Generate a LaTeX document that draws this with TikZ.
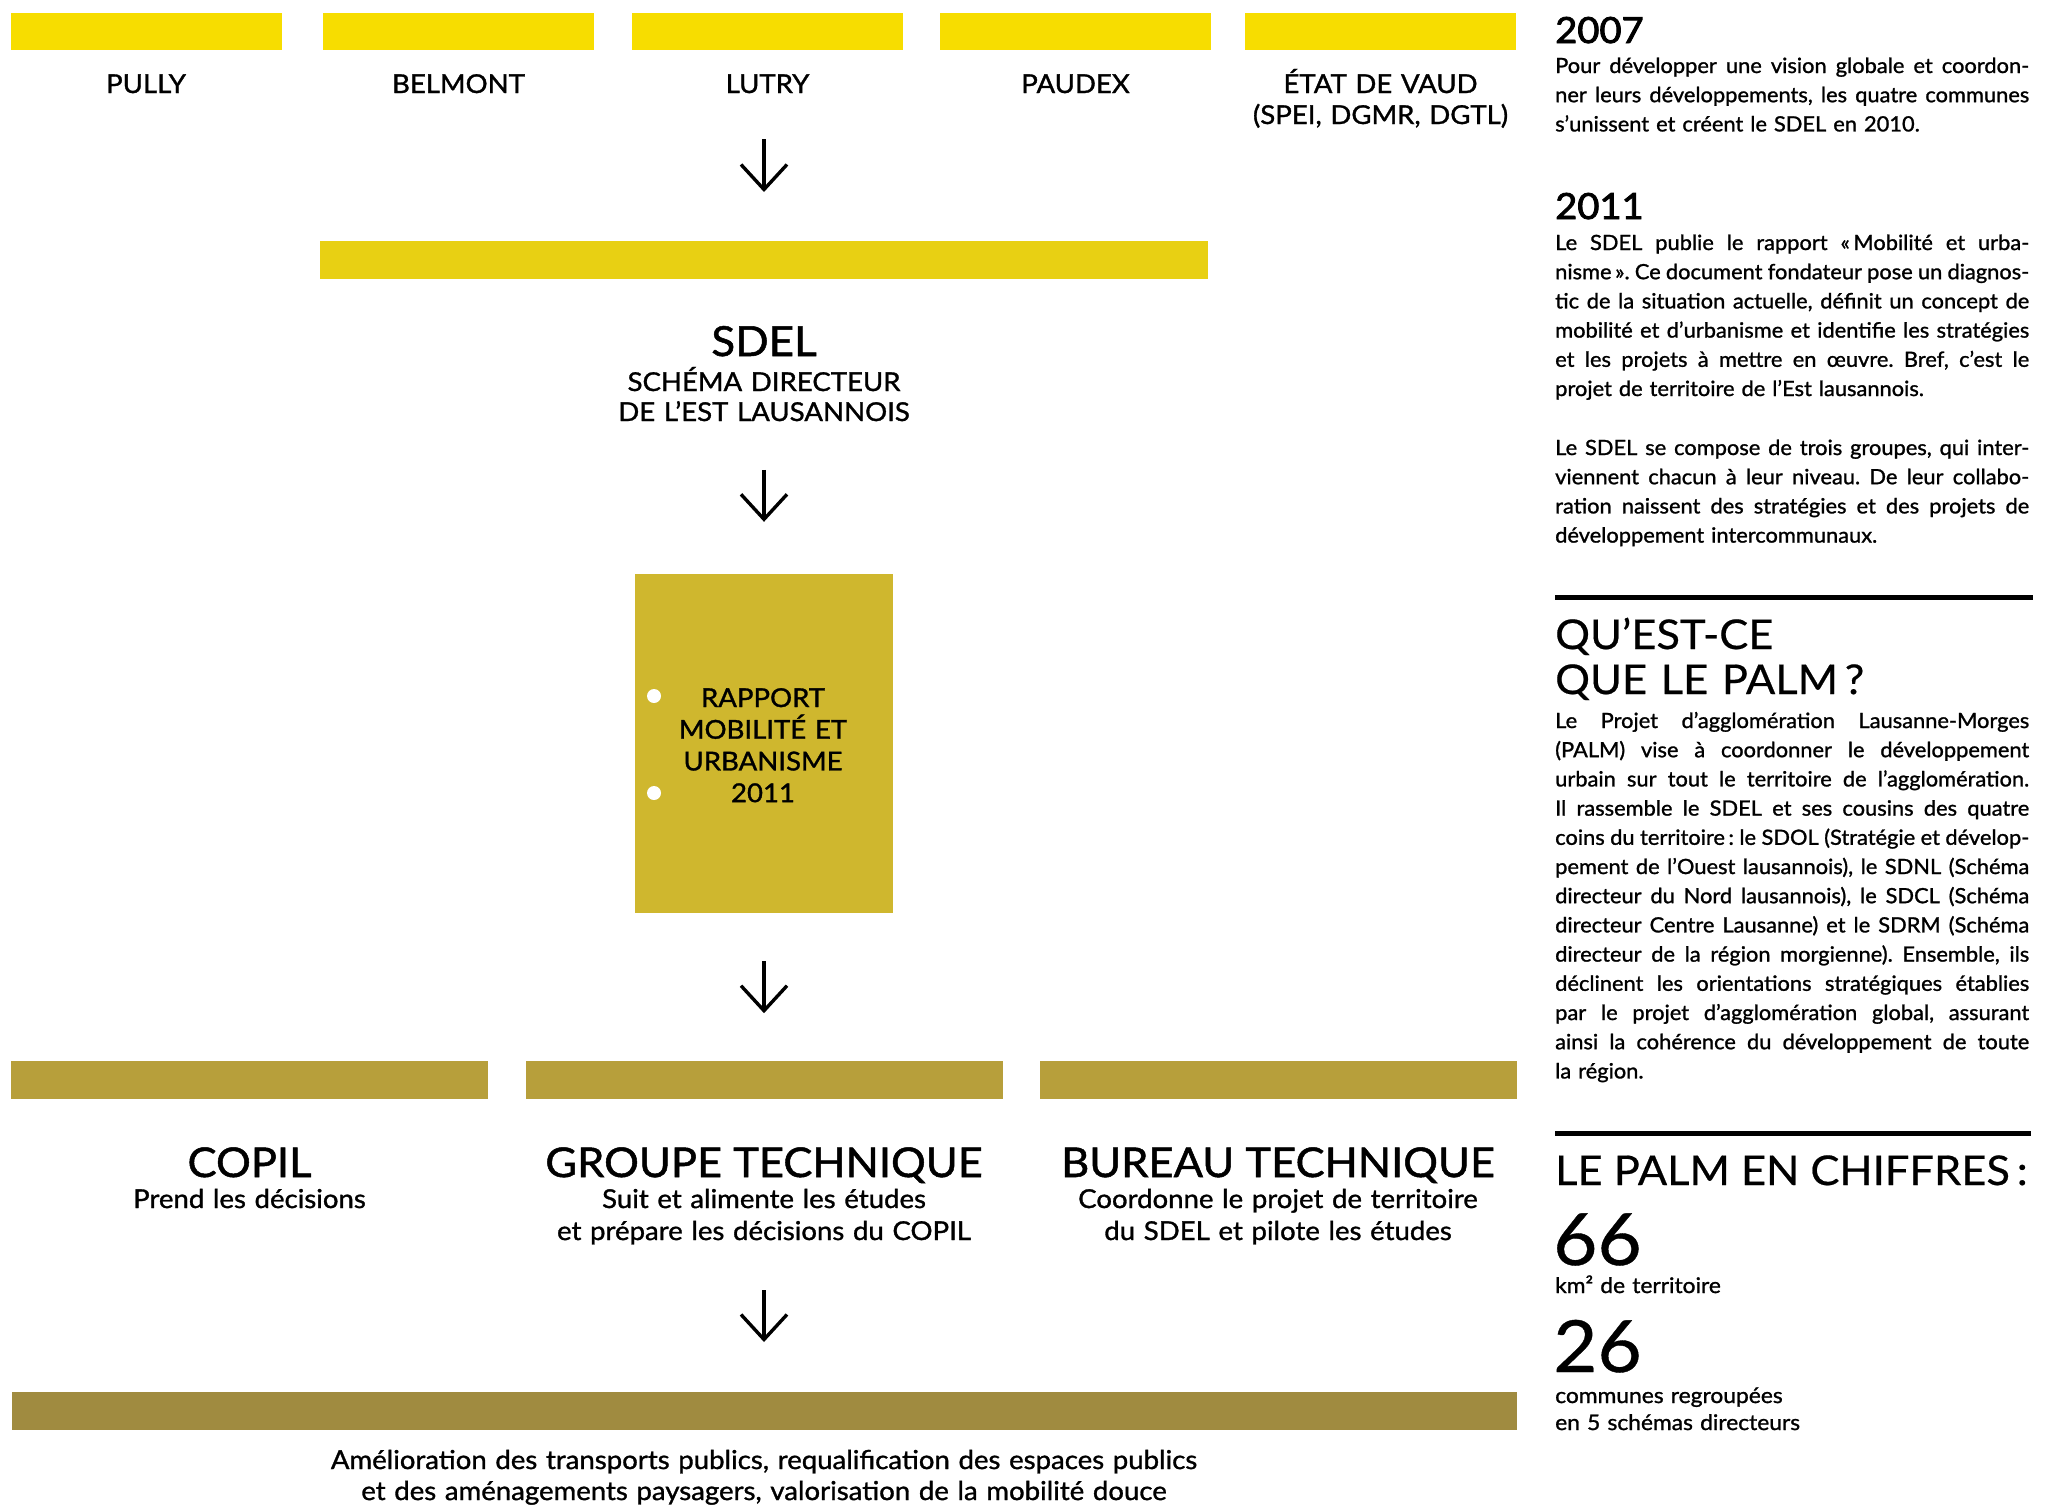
\documentclass[tikz,border=0pt]{standalone}
\usepackage{fontspec}
\setmainfont{Lato}[FakeStretch=1.06,FakeBold=1.2]
\newfontfamily\bodyfont{Lato}[FakeStretch=1.04,FakeBold=1.2]
\newfontfamily\yearfont{Lato}[FakeStretch=1.06,FakeBold=2.4]
\newfontfamily\palmlight{Lato}[FakeStretch=1.06,FakeBold=0.5]
\usetikzlibrary{arrows.meta}
\frenchspacing

\definecolor{communeyellow}{HTML}{F7DD00}
\definecolor{sdelyellow}{HTML}{E8D013}
\definecolor{rapportgold}{HTML}{CFB72E}
\definecolor{groupgold}{HTML}{B79F3B}
\definecolor{resultgold}{HTML}{A08B40}

% une ligne justifiee sur toute la largeur de la colonne
\newcommand{\fullline}[1]{\leavevmode\hbox to\linewidth{\spaceskip=0pt\xspaceskip=0pt #1}\par}

\tikzset{
  colbar/.style={fill=#1, inner sep=0pt, outer sep=0pt, minimum height=38pt},
  flowarrow/.style={line width=3.4pt, -{Straight Barb[length=25pt,width=46pt]}},
  lbl/.style={inner sep=0pt, anchor=base, font=\fontsize{26}{31}\selectfont},
  sublbl/.style={lbl, text width=480pt, align=center, font=\fontsize{26}{32}\selectfont},
  grouptitle/.style={lbl, font=\fontsize{41}{41}\selectfont},
  para/.style={inner sep=0pt, anchor=base west, text width=474pt, align=left,
    font=\bodyfont\fontsize{21}{29.2}\selectfont},
  yearhead/.style={inner sep=0pt, anchor=base west, font=\yearfont\fontsize{36}{36}\selectfont},
  palmhead/.style={inner sep=0pt, anchor=base west, font=\palmlight\fontsize{41}{45}\selectfont},
}

\begin{document}
\begin{tikzpicture}[x=1pt,y=-1pt]
\useasboundingbox (0,0) rectangle (2061,1508);

% communes et canton
\node[colbar=communeyellow, minimum width=271pt, minimum height=37pt] (pullybar) at (146,31.5) {};
\node[colbar=communeyellow, minimum width=271pt, minimum height=37pt] (belmontbar) at (458.5,31.5) {};
\node[colbar=communeyellow, minimum width=271pt, minimum height=37pt] (lutrybar) at (767.5,31.5) {};
\node[colbar=communeyellow, minimum width=271pt, minimum height=37pt] (paudexbar) at (1075.5,31.5) {};
\node[colbar=communeyellow, minimum width=271pt, minimum height=37pt] (vaudbar) at (1380.5,31.5) {};
\node[lbl] (pully) at (146,93) {PULLY};
\node[lbl] (belmont) at (458.5,93) {BELMONT};
\node[lbl] (lutry) at (767.5,93) {LUTRY};
\node[lbl] (paudex) at (1075.5,93) {PAUDEX};
\node[lbl, text width=270pt, align=center] (vaud) at (1380.5,93) {ÉTAT DE VAUD\\(SPEI, DGMR, DGTL)};

% SDEL
\node[colbar=sdelyellow, minimum width=888pt] (sdelbar) at (764,260) {};
\node[lbl, font=\fontsize{41.5}{41.5}\selectfont] (sdel) at (764,356) {SDEL};
\node[lbl, text width=420pt, align=center, font=\fontsize{26}{30}\selectfont] (sdelname) at (764,391) {SCHÉMA DIRECTEUR\\DE L’EST LAUSANNOIS};
\draw[flowarrow] ([yshift=102pt]sdelbar.north) -- ([yshift=49pt]sdelbar.north);

% rapport 2011
\node[fill=rapportgold, inner sep=0pt, minimum width=258pt, minimum height=339pt] (rapport) at (764,743.5) {};
\fill[white] (654,696) circle (7) (654,793) circle (7);
\node[lbl, text width=240pt, align=center, font=\fontsize{26}{31.7}\selectfont] (rapporttitle) at (763,707) {RAPPORT\\MOBILITÉ ET\\URBANISME\\2011};
\draw[flowarrow] ([yshift=104pt]rapport.north) -- ([yshift=52pt]rapport.north);

% les trois groupes
\node[colbar=groupgold, minimum width=477pt] (copilbar) at (249.5,1080) {};
\node[colbar=groupgold, minimum width=477pt] (gtbar) at (764.5,1080) {};
\node[colbar=groupgold, minimum width=477pt] (btbar) at (1278,1080) {};
\node[grouptitle] (copil) at (249.5,1177) {COPIL};
\node[grouptitle] (gt) at (764,1177) {GROUPE TECHNIQUE};
\node[grouptitle] (bt) at (1278,1177) {BUREAU TECHNIQUE};
\node[sublbl] (copiltxt) at (249.5,1208) {Prend les décisions};
\node[sublbl] (gttxt) at (764,1208) {Suit et alimente les études\\et prépare les décisions du COPIL};
\node[sublbl] (bttxt) at (1278,1208) {Coordonne le projet de territoire\\du SDEL et pilote les études};
\draw[flowarrow] ([yshift=-48pt]rapport.south) -- ([yshift=-100pt]rapport.south);

% resultats
\node[colbar=resultgold, minimum width=1505pt] (resultbar) at (764,1411) {};
\node[sublbl, text width=1000pt, font=\fontsize{26}{31}\selectfont] (result) at (764,1469) {Amélioration des transports publics, requalification des espaces publics\\et des aménagements paysagers, valorisation de la mobilité douce};
\draw[flowarrow] ([yshift=102pt]resultbar.north) -- ([yshift=50pt]resultbar.north);

% colonne de droite
\node[yearhead] (y2007) at (1555,43) {2007};
\node[para] (p2007) at (1555,73) {\fullline{Pour développer une vision globale et coordon-}
  \fullline{ner leurs développements, les quatre communes}
  s’unissent et créent le SDEL en 2010.};
\node[yearhead] (y2011) at (1555,219) {2011};
\node[para] (p2011) at (1555,250) {\fullline{Le SDEL publie le rapport «\,Mobilité et urba-}
  \fullline{nisme\,». Ce document fondateur pose un diagnos-}
  \fullline{tic de la situation actuelle, définit un concept de}
  \fullline{mobilité et d’urbanisme et identifie les stratégies}
  \fullline{et les projets à mettre en œuvre. Bref, c’est le}
  projet de territoire de l’Est lausannois.};
\node[para] (pgroupes) at (1555,455) {\fullline{Le SDEL se compose de trois groupes, qui inter-}
  \fullline{viennent chacun à leur niveau. De leur collabo-}
  \fullline{ration naissent des stratégies et des projets de}
  développement intercommunaux.};

\draw[line width=5pt] (1555,597.5) -- (2033,597.5);
\node[palmhead, text width=480pt, align=left] (palmq) at (1555,649) {QU’EST-CE\\QUE LE PALM\,?};
\node[para] (ppalm) at (1555,728) {\fullline{Le Projet d’agglomération Lausanne-Morges}
  \fullline{(PALM) vise à coordonner le développement}
  \fullline{urbain sur tout le territoire de l’agglomération.}
  \fullline{Il rassemble le SDEL et ses cousins des quatre}
  \fullline{coins du territoire\,: le SDOL (Stratégie et dévelop-}
  \fullline{pement de l’Ouest lausannois), le SDNL (Schéma}
  \fullline{directeur du Nord lausannois), le SDCL (Schéma}
  \fullline{directeur Centre Lausanne) et le SDRM (Schéma}
  \fullline{directeur de la région morgienne). Ensemble, ils}
  \fullline{déclinent les orientations stratégiques établies}
  \fullline{par le projet d’agglomération global, assurant}
  \fullline{ainsi la cohérence du développement de toute}
  la région.};

\draw[line width=5pt] (1555,1133.5) -- (2031,1133.5);
\node[palmhead] (chiffres) at (1555,1185) {LE PALM EN CHIFFRES\,:};
\node[palmhead, font=\palmlight\fontsize{72}{72}\selectfont] (km) at (1553,1265) {66};
\node[para, font=\fontsize{21.5}{29}\selectfont] (kmtxt) at (1555,1293) {km² de territoire};
\node[palmhead, font=\palmlight\fontsize{72}{72}\selectfont] (communes) at (1553,1372) {26};
\node[para, font=\fontsize{21.5}{27}\selectfont] (communestxt) at (1555,1403) {communes regroupées\\en 5 schémas directeurs};
\end{tikzpicture}
\end{document}
